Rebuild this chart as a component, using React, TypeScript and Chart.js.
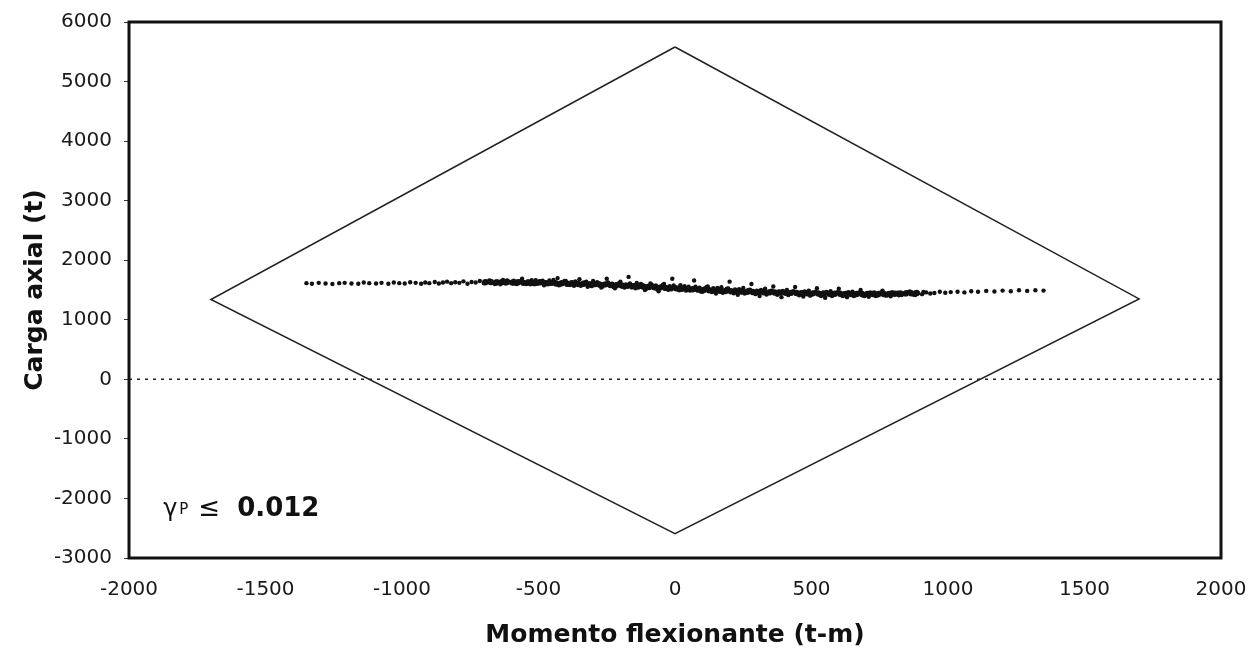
import { useEffect, useRef } from "react";
import { Chart, registerables } from "chart.js";

Chart.register(...registerables);

// Interaction diagram (diamond) vertices: moment (t-m), axial load (t)
const diamondX = [0, 1700, 0, -1700, 0];
const diamondY = [5580, 1350, -2590, 1340, 5580];

// Zero axial-load reference line
const zeroLineX = [-2000, 2000];
const zeroLineY = [0, 0];

// Simulated (M, P) demand points
const scatterX = [
  -1350, -1330, -1305, -1280, -1255, -1230, -1210, -1185, -1160, -1140, -1120, -1095, -1075, -1050, -1030, -1010,
  -990, -970, -950, -930, -915, -900, -880, -865, -850, -835, -820, -805, -790, -775, -760, -745, -730, -715, -700,
  -690, -680, -670, -660, -650, -640, -630, -620, -610, -600, -590, -580, -570, -560, -550, -540, -530, -520, -510,
  -500, -490, -480, -470, -460, -450, -440, -430, -420, -410, -400, -390, -380, -370, -360, -350, -340, -330, -320,
  -310, -300, -290, -280, -270, -260, -250, -240, -230, -220, -210, -200, -190, -180, -170, -160, -150, -140, -130,
  -120, -110, -100, -90, -80, -70, -60, -50, -40, -30, -20, -10, 0, 10, 20, 30, 40, 50, 60, 70, 80, 90, 100, 110,
  120, 130, 140, 150, 160, 170, 180, 190, 200, 210, 220, 230, 240, 250, 260, 270, 280, 290, 300, 310, 320, 330, 340,
  350, 360, 370, 380, 390, 400, 410, 420, 430, 440, 450, 460, 470, 480, 490, 500, 510, 520, 530, 540, 550, 560, 570,
  580, 590, 600, 610, 620, 630, 640, 650, 660, 670, 680, 690, 700, 710, 720, 730, 740, 750, 760, 770, 780, 790, 800,
  815, 830, 845, 860, 875, 890, 905, 920, 935, 950, 970, 990, 1010, 1035, 1060, 1085, 1110, 1140, 1170, 1200, 1230,
  1260, 1290, 1320, 1350,
];
const scatterY = [
  1615, 1605, 1620, 1610, 1600, 1615, 1620, 1610, 1605, 1625, 1615, 1610, 1620, 1605, 1625, 1615,
  1610, 1630, 1620, 1605, 1625, 1615, 1635, 1610, 1625, 1640, 1615, 1630, 1620, 1645, 1605, 1635, 1625, 1650, 1615,
  1640, 1660, 1620, 1600, 1645, 1630, 1670, 1610, 1640, 1625, 1655, 1600, 1635, 1690, 1620, 1645, 1595, 1630, 1665,
  1615, 1640, 1580, 1625, 1660, 1605, 1635, 1700, 1590, 1620, 1650, 1600, 1630, 1570, 1615, 1680, 1595, 1625, 1555,
  1610, 1650, 1585, 1615, 1540, 1600, 1690, 1575, 1605, 1530, 1590, 1640, 1560, 1595, 1720, 1545, 1580, 1620, 1555,
  1585, 1500, 1570, 1610, 1540, 1575, 1480, 1560, 1600, 1530, 1565, 1690, 1545, 1515, 1580, 1535, 1490, 1555, 1520,
  1660, 1505, 1540, 1470, 1525, 1560, 1500, 1530, 1440, 1510, 1545, 1490, 1520, 1640, 1480, 1510, 1420, 1495, 1535,
  1470, 1500, 1600, 1460, 1490, 1400, 1480, 1520, 1455, 1485, 1560, 1445, 1475, 1380, 1465, 1500, 1440, 1470, 1550,
  1430, 1460, 1390, 1455, 1490, 1425, 1450, 1530, 1420, 1450, 1370, 1440, 1480, 1415, 1445, 1520, 1410, 1440, 1380,
  1435, 1470, 1410, 1440, 1500, 1405, 1435, 1385, 1430, 1460, 1405, 1435, 1490, 1410, 1440, 1395, 1430, 1455, 1415,
  1440, 1475, 1420, 1445, 1430, 1460, 1440, 1450, 1470, 1455, 1465, 1470, 1460, 1480, 1470, 1485, 1475, 1490, 1480,
  1495, 1485, 1495, 1490,
];

// Dense core of the band
const coreX = [
  -695, -675, -655, -635, -615, -595, -575, -555, -535, -515, -495, -475, -455, -435, -415, -395, -375, -355, -335,
  -315, -295, -275, -255, -235, -215, -195, -175, -155, -135, -115, -95, -75, -55, -35, -15, 5, 25, 45, 65, 85, 105,
  125, 145, 165, 185, 205, 225, 245, 265, 285, 305, 325, 345, 365, 385, 405, 425, 445, 465, 485, 505, 525, 545, 565,
  585, 605, 625, 645, 665, 685, 705, 725, 745, 765, 785, 805, 825, 845, 865, 885,
];
const coreY = [
  1630, 1635, 1625, 1630, 1635, 1625, 1630, 1620, 1625, 1615, 1630, 1615, 1620, 1610, 1615, 1605, 1610, 1600, 1605,
  1595, 1600, 1590, 1595, 1585, 1580, 1575, 1570, 1565, 1560, 1555, 1550, 1545, 1540, 1535, 1530, 1528, 1522, 1518,
  1512, 1506, 1500, 1495, 1490, 1486, 1482, 1478, 1475, 1472, 1470, 1467, 1465, 1462, 1460, 1458, 1456, 1454, 1452,
  1450, 1448, 1446, 1444, 1442, 1440, 1438, 1437, 1436, 1435, 1434, 1433, 1432, 1432, 1432, 1433, 1434, 1435, 1437,
  1440, 1443, 1446, 1450,
];

// Extra scattered points filling the band
const extraX = [
  -640, -615, -590, -565, -545, -525, -505, -485, -465, -445, -425, -405, -385, -365, -345, -325, -305, -285, -265,
  -245, -225, -205, -185, -165, -145, -125, -105, -85, -65, -45, -25, -5, 15, 35, 55, 75, 95, 115, 135, 155, 175, 195,
  215, 235, 255, 275, 295, 315, 335, 355, 375, 395, 415, 435, 455, 475, 495, 515, 535, 555, 575, 595, 615, 635, 655,
  675, 695, 715, 735, 755, 775, 795, 820, 850, 880, 910,
];
const extraY = [
  1595, 1660, 1610, 1650, 1600, 1665, 1605, 1655, 1595, 1670, 1580, 1650, 1585, 1645, 1570, 1640, 1565, 1630, 1560,
  1625, 1550, 1615, 1540, 1610, 1530, 1600, 1520, 1590, 1510, 1585, 1505, 1575, 1495, 1565, 1490, 1555, 1475, 1545,
  1465, 1535, 1455, 1525, 1445, 1515, 1440, 1505, 1430, 1500, 1425, 1490, 1420, 1485, 1415, 1480, 1410, 1475, 1405,
  1470, 1400, 1468, 1400, 1465, 1398, 1462, 1400, 1460, 1398, 1458, 1400, 1460, 1405, 1462, 1410, 1465, 1415, 1468,
];

const xTicks = [-2000, -1500, -1000, -500, 0, 500, 1000, 1500, 2000];
const yTicks = [-3000, -2000, -1000, 0, 1000, 2000, 3000, 4000, 5000, 6000];

const xTitle = "Momento flexionante (t-m)";
const yTitle = "Carga axial (t)";
const noteSymbol = "γ";
const noteSub = "P";
const noteRel = "≤";
const noteValue = "0.012";
const noteX = -1875;
const noteY = -2300;

const toPts = (xs: number[], ys: number[]) => xs.map((x, i) => ({ x, y: ys[i] }));

export default function App() {
  const ref = useRef<HTMLCanvasElement | null>(null);

  useEffect(() => {
    document.body.style.margin = "0";
    const canvas = ref.current;
    if (!canvas) return;

    const frame = {
      id: "frame",
      afterDatasetsDraw(chart: any) {
        const { ctx, chartArea } = chart;
        ctx.save();
        ctx.strokeStyle = "#111";
        ctx.lineWidth = 3;
        ctx.strokeRect(chartArea.left, chartArea.top, chartArea.right - chartArea.left, chartArea.bottom - chartArea.top);
        const xs = chart.scales.x;
        const ys = chart.scales.y;
        let px = xs.getPixelForValue(noteX);
        const py = ys.getPixelForValue(noteY);
        ctx.fillStyle = "#111";
        ctx.textBaseline = "alphabetic";
        ctx.textAlign = "left";
        ctx.font = "24px 'DejaVu Sans'";
        ctx.fillText(noteSymbol, px, py);
        px += ctx.measureText(noteSymbol).width + 2;
        ctx.font = "15px 'DejaVu Sans'";
        ctx.fillText(noteSub, px, py - 2);
        px += ctx.measureText(noteSub).width + 10;
        ctx.font = "26px 'DejaVu Sans'";
        ctx.fillText(noteRel, px, py);
        px += ctx.measureText(noteRel).width + 17;
        ctx.font = "bold 26px 'DejaVu Sans'";
        ctx.fillText(noteValue, px, py);
        ctx.restore();
      },
    };

    const dotStyle = { pointBackgroundColor: "#111", pointBorderWidth: 0 };

    const chart = new Chart(canvas, {
      type: "scatter",
      data: {
        datasets: [
          {
            data: toPts(diamondX, diamondY),
            showLine: true,
            borderColor: "#222",
            borderWidth: 1.5,
            pointRadius: 0,
            fill: false,
          },
          {
            data: toPts(zeroLineX, zeroLineY),
            showLine: true,
            borderColor: "#222",
            borderWidth: 1.5,
            borderDash: [3, 5],
            pointRadius: 0,
            fill: false,
          },
          { data: toPts(scatterX, scatterY), pointRadius: 2.2, ...dotStyle },
          { data: toPts(coreX, coreY), pointRadius: 3.2, ...dotStyle },
          { data: toPts(extraX, extraY), pointRadius: 2.2, ...dotStyle },
        ],
      },
      options: {
        animation: false,
        responsive: false,
        maintainAspectRatio: false,
        layout: { padding: { left: 0, right: 28, top: 22, bottom: 0 } },
        plugins: { legend: { display: false }, tooltip: { enabled: false } },
        scales: {
          x: {
            type: "linear",
            min: -2000,
            max: 2000,
            afterBuildTicks: (s: any) => {
              s.ticks = xTicks.map((v) => ({ value: v }));
            },
            afterFit: (s: any) => {
              s.height = 97;
              s.paddingLeft = 0;
              s.paddingRight = 0;
            },
            grid: { display: false, drawTicks: false },
            border: { display: false },
            ticks: {
              padding: 20,
              color: "#1a1a1a",
              font: { family: "'DejaVu Sans'", size: 20 },
              maxRotation: 0,
              callback: (v: any) => String(v),
            },
            title: {
              display: true,
              text: xTitle,
              color: "#111",
              font: { family: "'DejaVu Sans'", size: 25, weight: "bold" },
              padding: { top: 0, bottom: 5 },
            },
          },
          y: {
            type: "linear",
            min: -3000,
            max: 6000,
            afterBuildTicks: (s: any) => {
              s.ticks = yTicks.map((v) => ({ value: v }));
            },
            afterFit: (s: any) => {
              s.width = 129;
              s.paddingTop = 0;
              s.paddingBottom = 0;
            },
            grid: { drawOnChartArea: false, drawTicks: true, tickLength: 5, color: "#333" },
            border: { display: false },
            ticks: {
              padding: 12,
              color: "#1a1a1a",
              font: { family: "'DejaVu Sans'", size: 20 },
              callback: (v: any) => String(v),
            },
            title: {
              display: true,
              text: yTitle,
              color: "#111",
              font: { family: "'DejaVu Sans'", size: 25, weight: "bold" },
              padding: { top: 20, bottom: 0 },
            },
          },
        },
      },
      plugins: [frame],
    } as any);

    return () => chart.destroy();
  }, []);

  return (
    <div style={{ width: 1249, height: 655, background: "#fff" }}>
      <canvas ref={ref} width={1249} height={655} style={{ display: "block" }} />
    </div>
  );
}
